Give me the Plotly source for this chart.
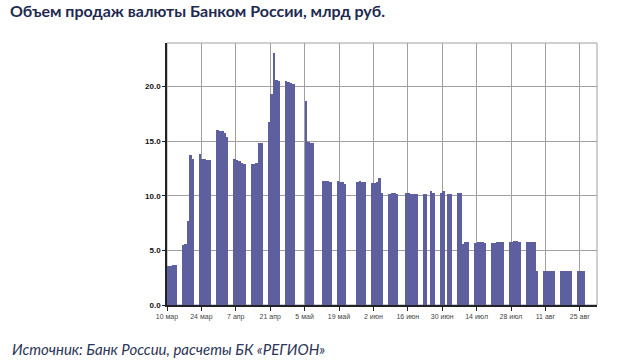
import plotly.graph_objects as go

# Business-day dates (2015) and daily sales, bn RUB
dates = [
    "2015-03-10", "2015-03-11", "2015-03-12", "2015-03-13",
    "2015-03-16", "2015-03-17", "2015-03-18", "2015-03-19", "2015-03-20",
    "2015-03-23", "2015-03-24", "2015-03-25", "2015-03-26", "2015-03-27",
    "2015-03-30", "2015-03-31", "2015-04-01", "2015-04-02", "2015-04-03",
    "2015-04-06", "2015-04-07", "2015-04-08", "2015-04-09", "2015-04-10",
    "2015-04-13", "2015-04-14", "2015-04-15", "2015-04-16", "2015-04-17",
    "2015-04-20", "2015-04-21", "2015-04-22", "2015-04-23", "2015-04-24",
    "2015-04-27", "2015-04-28", "2015-04-29", "2015-04-30",
    "2015-05-05", "2015-05-06", "2015-05-07", "2015-05-08",
    "2015-05-12", "2015-05-13", "2015-05-14", "2015-05-15",
    "2015-05-18", "2015-05-19", "2015-05-20", "2015-05-21",
    "2015-05-26", "2015-05-27", "2015-05-28", "2015-05-29",
    "2015-06-01", "2015-06-02", "2015-06-03", "2015-06-04", "2015-06-05",
    "2015-06-08", "2015-06-09", "2015-06-10", "2015-06-11",
    "2015-06-15", "2015-06-16", "2015-06-17", "2015-06-18", "2015-06-19",
    "2015-06-22", "2015-06-23", "2015-06-25", "2015-06-26",
    "2015-06-29", "2015-06-30", "2015-07-02", "2015-07-03",
    "2015-07-06", "2015-07-07", "2015-07-08", "2015-07-09", "2015-07-10",
    "2015-07-13", "2015-07-14", "2015-07-15", "2015-07-16", "2015-07-17",
    "2015-07-20", "2015-07-21", "2015-07-22", "2015-07-23", "2015-07-24",
    "2015-07-27", "2015-07-28", "2015-07-29", "2015-07-30", "2015-07-31",
    "2015-08-03", "2015-08-04", "2015-08-05", "2015-08-06", "2015-08-07",
    "2015-08-10", "2015-08-11", "2015-08-12", "2015-08-13", "2015-08-14",
    "2015-08-17", "2015-08-18", "2015-08-19", "2015-08-20", "2015-08-21",
    "2015-08-24", "2015-08-25", "2015-08-26",
]
values = [
    3.6, 3.6, 3.7, 3.7,
    5.5, 5.6, 7.7, 13.7, 13.4,
    13.8, 13.4, 13.4, 13.3, 13.3,
    16.0, 15.9, 15.9, 15.8, 15.4,
    13.4, 13.3, 13.2, 13.0, 12.9,
    12.9, 12.9, 13.0, 14.8, 14.8,
    16.8, 19.3, 23.1, 20.6, 20.5,
    20.5, 20.4, 20.3, 20.2,
    18.7, 14.9, 14.8, 14.8,
    11.4, 11.4, 11.4, 11.3,
    11.4, 11.3, 11.3, 11.1,
    11.3, 11.4, 11.3, 11.3,
    11.2, 11.2, 11.3, 11.6, 10.3,
    10.2, 10.3, 10.3, 10.2,
    10.3, 10.3, 10.2, 10.2, 10.2,
    10.2, 10.2, 10.4, 10.3,
    10.3, 10.4, 10.2, 10.2,
    10.3, 10.3, 5.6, 5.8, 5.8,
    5.7, 5.8, 5.8, 5.8, 5.7,
    5.7, 5.7, 5.8, 5.8, 5.8,
    5.8, 5.8, 5.9, 5.9, 5.8,
    5.8, 5.8, 5.8, 5.8, 3.1,
    3.1, 3.1, 3.1, 3.1, 3.1,
    3.1, 3.1, 3.1, 3.1, 3.1,
    3.1, 3.1, 3.1,
]
tick_dates = ["2015-03-10", "2015-03-24", "2015-04-07", "2015-04-21", "2015-05-05",
              "2015-05-19", "2015-06-02", "2015-06-16", "2015-06-30", "2015-07-14",
              "2015-07-28", "2015-08-11", "2015-08-25"]
tick_labels = ["10 мар", "24 мар", "7 апр", "21 апр", "5 май", "19 май", "2 июн",
               "16 июн", "30 июн", "14 июл", "28 июл", "11 авг", "25 авг"]
y_ticks = [0, 5, 10, 15, 20]

title_text = "Объем продаж валюты Банком России, млрд руб."
source_text = "Источник: Банк России, расчеты БК «РЕГИОН»"

DAY_MS = 86400000

fig = go.Figure()
fig.add_trace(go.Bar(
    x=dates, y=values,
    width=DAY_MS, offset=0,
    marker=dict(color="#5d5f9f", line=dict(width=0)),
    hoverinfo="x+y",
))

fig.update_layout(
    width=620, height=360,
    margin=dict(l=167, r=23, t=43, b=55),
    paper_bgcolor="white", plot_bgcolor="white",
    bargap=0, showlegend=False,
    title=dict(text="<b>" + title_text + "</b>", x=0.016, xanchor="left",
               y=0.985, yanchor="top",
               font=dict(family="Lato", size=16, color="#1e2a50")),
    font=dict(family="Liberation Sans"),
)
fig.update_xaxes(
    type="date", range=["2015-03-10", "2015-09-01"],
    tickvals=tick_dates, ticktext=tick_labels,
    tickfont=dict(size=7, color="#444444"),
    showgrid=True, gridcolor="#a0a0a0", gridwidth=1,
    showline=True, linecolor="#222222", linewidth=1.5,
    ticks="outside", ticklen=4, tickcolor="#222222",
    zeroline=False,
)
fig.update_yaxes(
    range=[0, 24], tickvals=y_ticks, tickformat=".1f",
    tickfont=dict(size=8, color="#111111", family="Liberation Sans", weight="bold"),
    showgrid=True, gridcolor="#a0a0a0", gridwidth=1,
    showline=True, linecolor="#222222", linewidth=1.5,
    ticks="outside", ticklen=3, tickcolor="#222222",
    zeroline=False,
)
# plot-area frame
fig.add_shape(type="rect", xref="paper", yref="paper", x0=0, y0=0, x1=1, y1=1,
              line=dict(color="#a0a0a0", width=1), layer="below")
fig.add_annotation(
    text="<i>" + source_text + "</i>", xref="paper", yref="paper",
    x=-0.364, y=-0.168, xanchor="left", yanchor="middle", showarrow=False,
    font=dict(family="Lato", size=15, color="#2b3658"),
)
fig.write_html("out.html",
               config={"displayModeBar": False},
               post_script="document.body.style.margin='0px';document.body.style.overflow='hidden';")
